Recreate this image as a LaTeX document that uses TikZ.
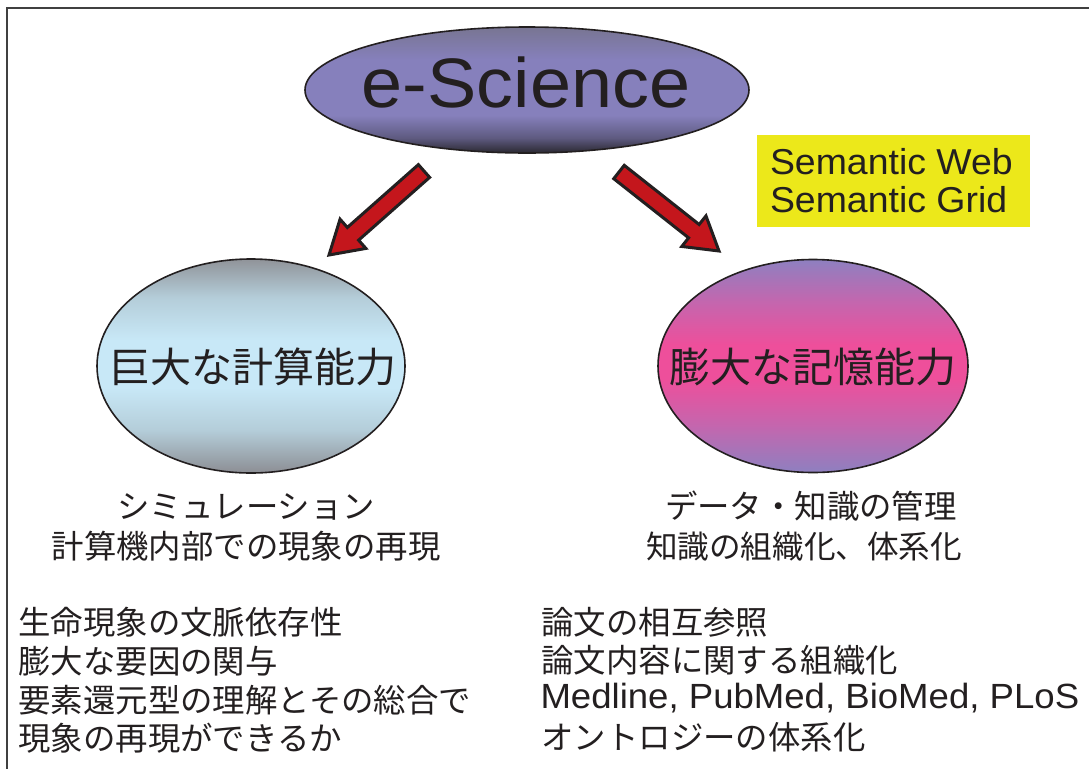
\documentclass[tikz,border=0pt]{standalone}
\usepackage{fontspec}
\usepackage{graphicx}
\setmainfont{Liberation Sans}
\newfontfamily\cjk{Noto Sans CJK JP}
\usetikzlibrary{shapes.geometric,calc}
\definecolor{ink}{HTML}{231F20}
\definecolor{framecol}{HTML}{404040}
\definecolor{arrowred}{HTML}{C4161C}
\definecolor{semyellow}{HTML}{ECE81A}
\definecolor{esdark}{HTML}{2A2830}
\definecolor{esmidb}{HTML}{5E5A80}
\definecolor{esmid}{HTML}{8680BC}
\definecolor{estop}{HTML}{787592}
\definecolor{cgray}{HTML}{8C8E94}
\definecolor{cgraytop}{HTML}{909399}
\definecolor{cbluemid}{HTML}{B4CDD9}
\definecolor{cblue}{HTML}{C8E8F7}
\definecolor{mlav}{HTML}{8E80C0}
\definecolor{mpinkb}{HTML}{C466AE}
\definecolor{mpink}{HTML}{EE4F9B}
\pgfdeclareverticalshading{esshade}{100bp}{color(0bp)=(esdark); color(25bp)=(esdark); color(31bp)=(esmidb); color(40bp)=(esmid); color(62bp)=(esmid); color(75bp)=(estop); color(100bp)=(estop)}
\pgfdeclareverticalshading{compshade}{100bp}{color(0bp)=(cgray); color(25bp)=(cgray); color(35bp)=(cbluemid); color(45bp)=(cblue); color(56bp)=(cblue); color(66bp)=(cbluemid); color(75bp)=(cgraytop); color(100bp)=(cgraytop)}
\pgfdeclareverticalshading{memshade}{100bp}{color(0bp)=(mlav); color(25bp)=(mlav); color(36bp)=(mpinkb); color(47bp)=(mpink); color(55bp)=(mpink); color(65bp)=(mpinkb); color(75bp)=(mlav); color(100bp)=(mlav)}
\newcommand\redarrow[2]{%
  \path ($(#2)!32pt!(#1)$) coordinate (#1hb);
  \filldraw[bigarrow] ($(#1)!8.5pt!90:(#2)$) -- ($(#1hb)!8.5pt!-90:(#1)$) -- ($(#1hb)!19.5pt!-90:(#1)$) -- (#2) -- ($(#1hb)!19.5pt!90:(#1)$) -- ($(#1hb)!8.5pt!90:(#1)$) -- ($(#1)!8.5pt!-90:(#2)$) -- cycle;
}
\tikzset{
  bubble/.style={ellipse, draw=ink, line width=1.6pt, inner sep=0, shade},
  txt/.style={inner sep=0, outer sep=0, text=ink, anchor=base},
  txtl/.style={txt, anchor=base west},
  cjkbig/.style={font=\cjk\fontsize{41}{41}\selectfont},
  cjkmid/.style={font=\cjk\fontsize{32.4}{32.4}\selectfont},
  cjksmall/.style={font=\cjk\fontsize{31.6}{31.6}\selectfont},
  bigarrow/.style={fill=arrowred, draw=ink, line width=3pt, line join=miter},
}
\begin{document}
\begin{tikzpicture}[x=1pt,y=-1pt]
\useasboundingbox (0,0) rectangle (1089,769);
\draw[framecol, line width=2pt] (1089,8) -- (7,8) -- (7,769);
% ellipses
\node[bubble, shading=esshade, minimum width=444pt, minimum height=126pt] (es) at (527,90) {};
\node[bubble, shading=compshade, minimum width=308pt, minimum height=214pt] (comp) at (251,366) {};
\node[bubble, shading=memshade, minimum width=310pt, minimum height=213pt] (mem) at (813,366) {};
\node[txt, font=\fontsize{70}{70}\selectfont] (estext) at (526,107) {\scalebox{1.055}[1]{e-Science}};
\node[txt, cjkbig] (comptext) at (252.5,382) {巨大な計算能力};
\node[txt, cjkbig] (memtext) at (812.5,382) {膨大な記憶能力};
% arrows
\coordinate (ltail) at (424,171);
\coordinate (ltip) at (329,255);
\coordinate (rtail) at (619,172);
\coordinate (rtip) at (719,251);
\redarrow{ltail}{ltip}
\redarrow{rtail}{rtip}
% semantic box
\node[fill=semyellow, minimum width=273pt, minimum height=92pt, inner sep=0] (sembox) at (893.5,181) {};
\node[txtl, font=\fontsize{36}{36}\selectfont] (sem1) at (770,174) {\scalebox{1.04}[1]{Semantic Web}};
\node[txtl, font=\fontsize{36}{36}\selectfont] (sem2) at (770,212) {\scalebox{1.04}[1]{Semantic Grid}};
% sub texts
\node[txt, cjkmid] (sim1) at (246,518) {シミュレーション};
\node[txt, cjkmid] (sim2) at (246,558) {計算機内部での現象の再現};
\node[txtl, cjkmid] (dat1) at (665,518) {データ・知識の管理};
\node[txtl, cjksmall] (dat2) at (646,558) {知識の組織化、体系化};
% lists
\node[txtl, cjkmid] (l1) at (18.5,634) {生命現象の文脈依存性};
\node[txtl, cjkmid] (l2) at (18.5,673) {膨大な要因の関与};
\node[txtl, cjkmid] (l3) at (18.5,712) {要素還元型の理解とその総合で};
\node[txtl, cjkmid] (l4) at (18.5,750) {現象の再現ができるか};
\node[txtl, cjkmid] (r1) at (541.5,634) {論文の相互参照};
\node[txtl, cjkmid] (r2) at (541.5,672) {論文内容に関する組織化};
\node[txtl, font=\fontsize{35}{35}\selectfont] (r3) at (540.5,708) {\scalebox{1.045}[1]{Medline, PubMed, BioMed, PLoS}};
\node[txtl, cjkmid] (r4) at (541.5,749.5) {オントロジーの体系化};
\end{tikzpicture}
\end{document}
